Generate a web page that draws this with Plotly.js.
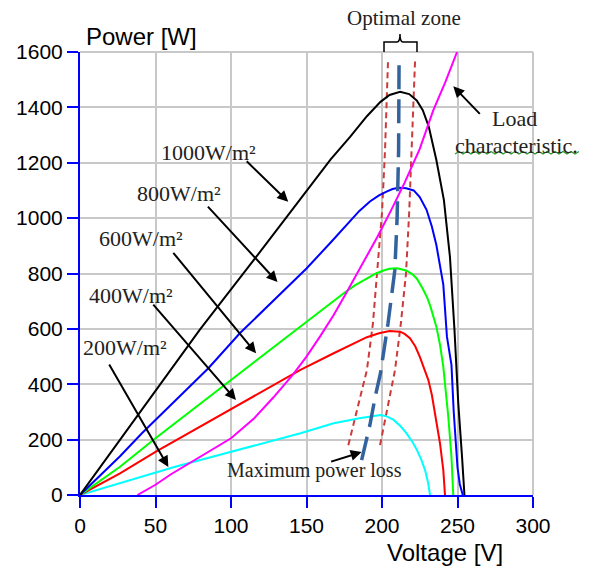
<!DOCTYPE html>
<html>
<head>
<meta charset="utf-8">
<script src="https://cdn.plot.ly/plotly-3.0.1.min.js"></script>
<style>html,body{margin:0;padding:0;background:#fff;}#chart{width:589px;height:569px;}</style>
</head>
<body>
<div id="chart"></div>
<script>
// ---- data ----
var v1000 = [0, 26.5, 36, 79.5, 115, 146, 166, 179, 190, 199, 205, 212, 218, 223, 227, 231, 236, 241, 245, 248, 250.5, 253, 254.6];
var p1000 = [0, 199, 272, 598, 848, 1068, 1212, 1294, 1368, 1420, 1445, 1456, 1448, 1425, 1390, 1330, 1210, 1065, 860, 596, 332, 138, 0];

var v800 = [0, 26.5, 41, 85, 106, 150, 166, 179, 185, 192, 198, 203, 207, 211, 216, 221, 225, 229.5, 233, 236, 238.5, 240.6, 243, 246, 247.5, 248.5, 250, 251.5, 253.5];
var p800 = [0, 140, 223, 458, 585, 818, 912, 990, 1026, 1060, 1082, 1096, 1105, 1110, 1108, 1100, 1076, 1030, 970, 903, 830, 760, 572, 470, 300, 200, 100, 40, 0];

var v600 = [0, 26.5, 50, 92.7, 143.5, 164, 174, 182, 190, 196, 201, 205, 210, 216, 220, 223, 227, 230, 232, 236, 238.5, 240.6, 243.9, 246, 247.2];
var p600 = [0, 102, 205, 385, 600, 686, 726, 757, 782, 800, 811, 817, 819, 811, 798, 782, 745, 712, 682, 608, 540, 463, 283, 138, 0];

var v400 = [0, 26.5, 50, 100, 146, 168, 180, 190, 198, 205, 212, 215, 218.5, 222, 225, 228, 230.7, 233, 235, 238.4, 240.6, 241.7];
var p400 = [0, 78, 156, 311, 452, 512, 545, 570, 584, 592, 590, 582, 566, 537, 500, 458, 415, 362, 295, 187, 90, 0];

var v200 = [0, 26.5, 63, 146, 168, 185, 192, 196, 199, 203, 207.5, 212, 216, 220, 223, 226, 228.5, 230.5, 231.8];
var p200 = [0, 42, 102, 223, 259, 277, 284, 288, 289, 284, 272, 250, 224, 193, 164, 128, 90, 45, 0];

var vLoad = [38, 50, 60, 80, 100, 115, 128, 141, 150, 159, 168, 176.6, 187, 197, 206, 215, 225, 234, 242, 249.7];
var pLoad = [0, 37, 74, 138, 205, 275, 352, 435, 500, 573, 650, 732, 832, 933, 1028, 1128, 1250, 1390, 1492, 1600];

var vMpp = [186.5, 192, 195.5, 199, 204, 208.5, 210, 211, 211.3];
var pMpp = [126, 253, 355, 440, 620, 812, 1000, 1245, 1560];

var vZoneL = [177.7, 184, 190, 194, 197, 200, 202, 203.5, 204];
var pZoneL = [180, 320, 451, 620, 812, 1020, 1245, 1486, 1570];
var vZoneR = [198.7, 204, 208.6, 212.5, 215.9, 218, 219.6, 221, 221.9];
var pZoneR = [180, 320, 451, 620, 800, 1020, 1245, 1440, 1570];

var xTicks = [0, 50, 100, 150, 200, 250, 300];
var yTicks = [0, 200, 400, 600, 800, 1000, 1200, 1400, 1600];

// ---- layout helpers ----
var W = 589, H = 569, ML = 80, MR = 56, MT = 52, MB = 74;
var PW = W - ML - MR, PH = H - MT - MB;
function px(x){ return ((x - ML) / PW).toFixed(4); }
function py(y){ return ((MT + PH - y) / PH).toFixed(4); }

function line(x, y, color, width, dash){
  return {x: x, y: y, type: 'scatter', mode: 'lines', hoverinfo: 'skip',
          line: {color: color, width: width, dash: dash || 'solid', shape: 'linear'},
          showlegend: false, cliponaxis: true};
}

var traces = [
  line(vZoneL, pZoneL, '#cc3b3b', 2, '6px,4px'),
  line(vZoneR, pZoneR, '#cc3b3b', 2, '6px,4px'),
  line(v200, p200, '#00ffff', 2),
  line(v400, p400, '#ff0000', 2),
  line(v600, p600, '#00ff00', 2),
  line(v800, p800, '#0000ff', 2),
  line(v1000, p1000, '#000000', 2),
  line(vLoad, pLoad, '#ff00ff', 2),
  line(vMpp, pMpp, '#33639e', 3.5, '24px,10px')
];

var serif = 'Liberation Serif, Times New Roman, serif';
var sans = 'Liberation Sans, Arial, sans-serif';
var txtCol = '#222222';
function label(text, x, y, size){
  return {text: text, x: x, y: y, xref: 'x', yref: 'y', showarrow: false,
          xanchor: 'center', yanchor: 'middle',
          font: {family: serif, size: size || 20, color: txtCol}};
}
function plabel(text, x, y, size, fam){
  return {text: text, x: px(x), y: py(y), xref: 'paper', yref: 'paper', showarrow: false,
          xanchor: 'center', yanchor: 'middle',
          font: {family: fam, size: size, color: fam === sans ? '#000' : txtCol}};
}
function arrow(x, y, ax, ay){
  return {text: '', x: x, y: y, xref: 'x', yref: 'y', ax: ax, ay: ay,
          showarrow: true, arrowhead: 2, arrowsize: 1.1, arrowwidth: 2, arrowcolor: '#000'};
}

var annotations = [
  plabel('Power [W]', 141.7, 37, 24, sans),
  plabel('Voltage [V]', 445, 553, 24, sans),
  plabel('Optimal zone', 404, 18, 21, serif),
  label('1000W/m²', 84.8, 1238, 22),
  label('800W/m²', 65.6, 1090, 22),
  label('600W/m²', 40.4, 928, 22),
  label('400W/m²', 34.1, 722, 22),
  label('200W/m²', 29.8, 534, 22),
  label('Maximum power loss', 155, 90, 20),
  label('Load', 288, 1361, 22),
  label('characteristic.', 289, 1264, 22),
  arrow(137.9, 1059, -43, -42),
  arrow(130.8, 769, -71, -77),
  arrow(116.6, 511.6, -84, -102),
  arrow(103.3, 343, -84, -97),
  arrow(58.5, 101, -60, -104),
  arrow(247.2, 1476, 28, 29),
  arrow(186.5, 155, -32, 10)
];

// bracket above optimal zone (decoration)
var brace = 'M' + px(384) + ',' + py(52) + ' L' + px(384) + ',' + py(42) +
  ' L' + px(397) + ',' + py(42) + ' Q' + px(400) + ',' + py(42) + ' ' + px(400) + ',' + py(34) +
  ' Q' + px(400) + ',' + py(42) + ' ' + px(403) + ',' + py(42) +
  ' L' + px(417) + ',' + py(42) + ' L' + px(417) + ',' + py(52);
// spell-check squiggle under "characteristic."
var sq = 'M' + px(455) + ',' + py(154);
for (var i = 1; i <= 31; i++) {
  sq += ' L' + px(455 + i * 4) + ',' + py(i % 2 ? 151.5 : 154);
}

var layout = {
  width: W, height: H,
  margin: {l: ML, r: MR, t: MT, b: MB, pad: 0},
  paper_bgcolor: '#ffffff', plot_bgcolor: '#ffffff',
  showlegend: false,
  xaxis: {
    range: [0, 300], tickvals: xTicks, ticktext: xTicks.map(String),
    showgrid: true, gridcolor: '#c8c8c8', gridwidth: 2,
    showline: true, linecolor: '#0000ff', linewidth: 2,
    ticks: 'outside', ticklen: 11, tickwidth: 2, tickcolor: '#0000ff',
    zeroline: false, fixedrange: true,
    tickfont: {family: sans, size: 21, color: '#000'}
  },
  yaxis: {
    range: [0, 1600], tickvals: yTicks, ticktext: yTicks.map(String),
    showgrid: true, gridcolor: '#c8c8c8', gridwidth: 2,
    showline: true, linecolor: '#0000ff', linewidth: 2,
    ticks: 'outside', ticklen: 11, tickwidth: 2, tickcolor: '#0000ff',
    zeroline: false, fixedrange: true,
    tickfont: {family: sans, size: 21, color: '#000'}
  },
  annotations: annotations,
  shapes: [
    {type: 'path', xref: 'paper', yref: 'paper', path: brace, line: {color: '#000', width: 1.5}},
    {type: 'path', xref: 'paper', yref: 'paper', path: sq, line: {color: '#2e9b2e', width: 1.2}},
    {type: 'line', xref: 'paper', yref: 'paper', x0: 0, x1: 1, y0: 1, y1: 1, layer: 'below', line: {color: '#c8c8c8', width: 2}},
    {type: 'line', xref: 'paper', yref: 'paper', x0: 1, x1: 1, y0: 0, y1: 1, layer: 'below', line: {color: '#c8c8c8', width: 2}}
  ]
};

Plotly.newPlot('chart', traces, layout, {staticPlot: true, displayModeBar: false});
</script>
</body>
</html>
